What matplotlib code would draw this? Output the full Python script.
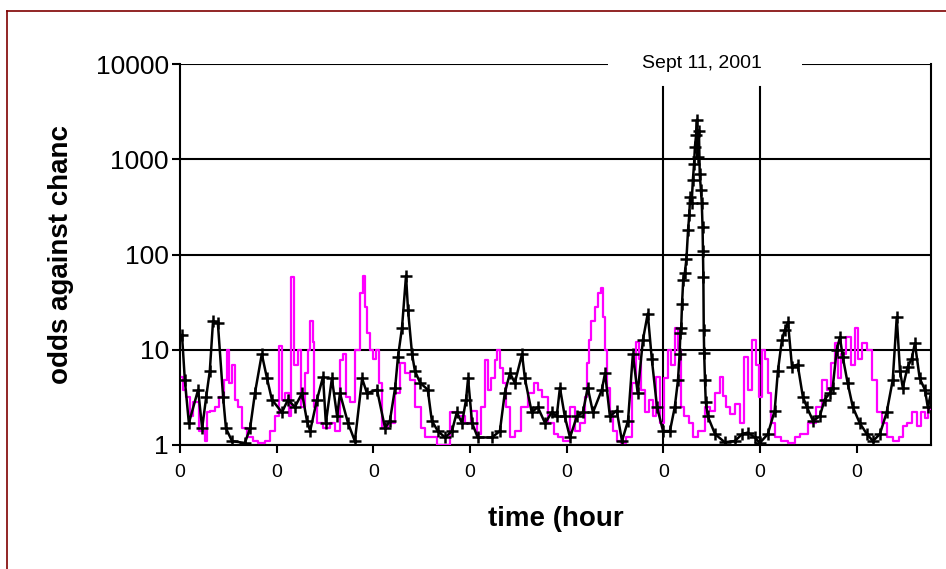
import matplotlib
matplotlib.use("Agg")
import matplotlib.pyplot as plt
from matplotlib.lines import Line2D
from matplotlib.patches import Rectangle

# ---- data (time in hours, values = odds against chance) ----
black_t = [0.5, 1.2, 2.2, 4.5, 5.5, 6.5, 7.4, 8.2, 9.4, 10.7, 11.4, 12.9, 16.1, 17.4, 18.6,
           20.3, 21.6, 22.8, 25.3, 26.8, 28.5, 30.3, 31.5, 32.3, 34.0, 35.5, 36.2, 37.7, 39.0,
           39.7, 41.7, 43.4, 45.2, 46.4, 48.9, 50.9, 52.1, 53.4, 54.1, 55.1, 56.1, 56.6, 57.6,
           58.3, 59.6, 61.5, 62.5, 64.0, 65.8, 67.5, 68.7, 70.0, 71.0, 71.5, 72.5, 73.9, 77.4,
           79.4, 80.6, 81.9, 83.1, 84.9, 85.6, 87.3, 88.8, 90.6, 92.3, 93.5, 94.3, 95.5, 96.8,
           98.5, 100.0, 101.2, 102.5, 104.7, 105.5, 106.7, 108.4, 109.7, 111.2, 112.4, 113.6,
           114.9, 116.1, 117.1, 118.4, 119.9, 121.6, 122.8, 123.6, 124.0, 124.2, 124.4, 124.6,
           124.9, 125.3, 125.7, 126.1, 126.4, 126.6, 127.0, 127.3, 127.6, 127.8, 128.1, 128.3,
           128.5, 128.8, 129.0, 129.3, 129.5, 129.7, 129.8, 129.9, 130.0, 130.1, 130.3, 130.5,
           131.0, 132.8, 135.2, 137.7, 139.5, 140.9, 142.7, 143.9, 145.9, 147.6, 148.4, 149.4,
           150.1, 150.9, 151.9, 153.3, 154.6, 155.6, 157.1, 158.8, 160.0, 161.3, 162.0, 163.0,
           163.8, 164.5, 165.7, 167.0, 168.7, 170.5, 172.0, 173.7, 175.4, 176.9, 177.9, 178.7,
           179.4, 180.6, 181.6, 182.4, 183.6, 184.9, 185.6, 186.4]
black_v = [14.3, 4.8, 1.7, 3.8, 1.5, 3.2, 6.0, 20, 19, 3.2, 1.5, 1.1, 1.05, 1.5, 3.5,
           9.0, 5.0, 3.0, 2.2, 3.0, 2.5, 3.5, 1.8, 1.4, 3.0, 5.2, 1.7, 5.0, 2.0,
           3.5, 1.7, 1.1, 5.0, 3.5, 3.8, 1.5, 1.8, 4.0, 8.4, 17, 60, 26, 9.0,
           6.0, 4.5, 3.8, 1.8, 1.4, 1.2, 1.4, 2.2, 1.7, 3.0, 5.0, 1.7, 1.2, 1.2,
           1.4, 3.5, 5.7, 4.5, 9.0, 5.0, 2.2, 2.5, 1.7, 2.2, 2.0, 4.0, 2.0, 1.2,
           2.0, 2.2, 4.0, 2.2, 3.8, 5.7, 2.0, 2.3, 1.1, 1.8, 9.0, 3.5,
           12.7, 24, 8.0, 2.5, 1.4, 1.4, 2.5, 4.8, 9.0, 15, 17, 30,
           54, 64, 90, 180, 260, 400, 350, 610, 900, 1350, 1800, 2600,
           1050, 2000, 700, 475, 350, 195, 110, 58, 16, 9.3, 4.8, 2.8,
           2.0, 1.3, 1.07, 1.1, 1.3, 1.35, 1.2, 1.05, 1.3, 2.3, 6.0, 12.7,
           16, 19.5, 6.6, 7.0, 3.2, 2.5, 1.8, 2.0, 3.0, 3.5, 4.0, 10,
           13.5, 8.4, 4.5, 2.5, 1.7, 1.3, 1.1, 1.3, 2.2, 4.8, 22, 6.0,
           4.0, 6.6, 8.0, 11.7, 5.0, 3.8, 2.5, 3.5]

magenta_t = [0.5, 1.2, 2.0, 3.0, 3.7, 5.5, 6.7, 6.9, 8.2, 9.2, 10.4, 11.2, 11.9, 12.4, 13.2,
             14.1, 14.9, 16.1, 17.4, 18.6, 20.3, 21.8, 23.1, 24.1, 25.1, 25.6, 26.6, 27.3, 28.0,
             28.8, 29.8, 30.5, 31.5, 31.8, 32.8, 33.0, 33.5, 34.7, 36.5, 38.0, 39.0, 40.2, 40.9,
             41.7, 42.9, 44.2, 45.2, 45.7, 46.2, 46.7, 47.6, 48.4, 49.1, 49.6, 50.9, 52.6, 54.1,
             55.3, 56.6, 57.8, 59.1, 60.3, 61.5, 63.3, 64.5, 65.8, 68.2, 70.0, 71.5, 73.2, 74.4,
             75.2, 76.2, 76.9, 77.7, 78.7, 78.9, 79.9, 80.6, 81.4, 82.6, 83.9, 85.6, 87.3, 88.6,
             89.3, 90.6, 92.3, 93.5, 94.3, 96.0, 97.5, 98.5, 100.0, 101.0, 101.2, 101.7, 102.5,
             103.5, 104.2, 104.7, 105.2, 105.7, 106.2, 107.2, 107.9, 109.2, 109.9, 111.7, 112.9,
             113.6, 114.1, 114.9, 115.9, 117.1, 117.9, 118.6, 119.6, 120.8, 121.6, 122.3, 123.3,
             124.1, 124.6, 125.8, 127.0, 127.8, 129.5, 131.0, 132.3, 133.5, 134.5, 135.2, 136.0,
             137.2, 138.5, 139.5, 140.7, 141.4, 142.7, 143.4, 144.2, 144.7, 145.7, 146.4, 147.1,
             148.4, 150.1, 151.9, 153.3, 154.6, 157.1, 158.8, 160.0, 161.3, 162.0, 163.0, 163.8,
             164.5, 166.3, 167.0, 168.0, 168.7, 170.0, 171.2, 172.5, 173.7, 174.9, 176.2, 177.9,
             179.2, 179.9, 181.1, 182.4, 183.6, 184.4, 185.4, 186.1]
magenta_v = [5.2, 3.8, 3.2, 2.0, 2.8, 1.4, 1.1, 2.2, 2.3, 2.5, 3.2, 4.8, 10, 4.5, 6.9,
             3.0, 2.5, 1.5, 1.2, 1.1, 1.05, 1.1, 1.4, 2.0, 11, 3.0, 3.5, 2.0, 58,
             7.0, 10, 2.5, 5.7, 10, 20, 12, 2.5, 1.7, 1.5, 1.7, 1.4, 7.8, 9.0,
             3.2, 2.8, 10, 39, 60, 28, 15, 10, 8.0, 10, 4.5, 1.5, 1.7, 3.5,
             7.2, 5.7, 4.8, 2.5, 1.5, 1.2, 1.2, 1.0, 1.0, 2.2, 2.0, 1.7, 2.3, 1.3,
             2.5, 7.8, 3.8, 5.0, 7.8, 10, 6.5, 4.5, 2.5, 1.2, 1.4, 2.5, 3.5, 4.5,
             3.8, 3.2, 1.7, 1.3, 1.2, 1.1, 2.5, 1.4, 1.7, 3.2, 7.2, 12.7, 20,
             28, 39, 45, 22, 10, 4.0, 2.2, 1.4, 1.1, 1.05, 1.2, 4.5,
             12, 8.0, 3.8, 2.2, 3.0, 2.0, 5.2, 1.7, 5.0, 10, 7.0, 17,
             10, 2.5, 2.0, 1.7, 1.2, 1.4, 2.5, 2.3, 3.5, 5.2, 3.3, 2.5,
             2.1, 2.7, 1.7, 8.4, 3.8, 12.7, 7.0, 3.2, 10, 8.0, 3.5, 1.7,
             1.2, 1.1, 1.05, 1.2, 1.3, 1.7, 2.5, 4.8, 3.8, 7.2, 11.7, 5.0,
             9.0, 13.5, 7.0, 17, 8.0, 11.7, 10, 4.8, 2.2, 1.7, 1.2, 1.1,
             1.2, 1.6, 1.7, 2.2, 1.6, 2.2, 1.9, 2.4]

x_ticks = [0, 24, 48, 72, 96, 120, 144, 168]
x_tick_labels = ["0", "0", "0", "0", "0", "0", "0", "0"]
y_ticks = [1, 10, 100, 1000, 10000]
y_tick_labels = ["1", "10", "100", "1000", "10000"]
event_lines = [120, 144]
event_label = "Sept 11, 2001"
x_label = "time (hour"
y_label = "odds against chanc"

plt.rcParams['font.family'] = ['Liberation Sans', 'DejaVu Sans']

fig = plt.figure(figsize=(9.46, 5.69), dpi=100)
ax = fig.add_axes([180/946, 1-445/569, (931-180)/946, (445-64)/569])

ax.plot(magenta_t, magenta_v, color='#ff00ff', lw=1.6, drawstyle='steps-mid', zorder=3)
ax.plot(black_t, black_v, color='black', lw=1.8, marker='+', ms=8, mew=1.8, zorder=4)

ax.set_yscale('log')
ax.set_ylim(1, 10000)
ax.set_xlim(0, 186.4)
ax.set_yticks(y_ticks)
ax.set_yticklabels(y_tick_labels)
ax.minorticks_off()
ax.set_xticks(x_ticks)
ax.set_xticklabels(x_tick_labels)
ax.tick_params(axis='y', labelsize=19, length=6, width=1.5, direction='out', pad=2)
ax.tick_params(axis='x', labelsize=14, length=6, width=1.5, direction='out', pad=8)
ax.grid(axis='y', color='black', lw=1.5)
ax.set_axisbelow(True)
for s in ax.spines.values():
    s.set_linewidth(1.5)
    s.set_color('black')
ax.spines['top'].set_visible(False)

for ev in event_lines:
    ax.axvline(ev, ymin=0, ymax=(445-87)/381, color='black', lw=1.5, zorder=2)

# white gap in the top line with the event label
ax.add_patch(Rectangle((106.2, 7000), 48.1, 7000, facecolor='white', edgecolor='none',
                       clip_on=False, zorder=5))
ax.text(129.5, 10000, event_label, ha='center', va='center', fontsize=14, zorder=6)

ax.set_xlabel(x_label, fontsize=20, fontweight='bold', labelpad=18)
ax.set_ylabel(y_label, fontsize=20, fontweight='bold', labelpad=16)

# outer frame (top and left edges)
fig.add_artist(Line2D([7/946, 1], [1-11/569, 1-11/569], color='#7f0000', lw=1.2))
fig.add_artist(Line2D([7/946, 7/946], [0, 1-11/569], color='#7f0000', lw=1.2))

fig.savefig('out.png', dpi=100)
